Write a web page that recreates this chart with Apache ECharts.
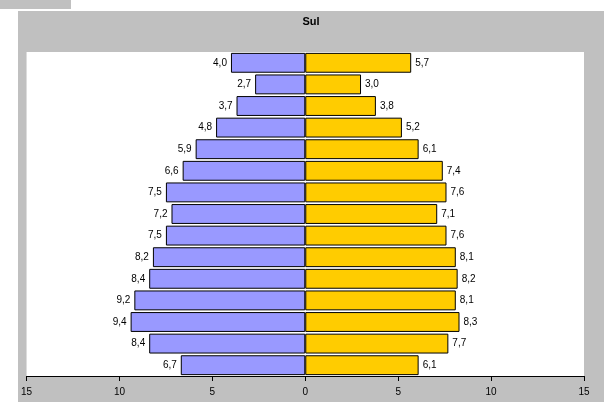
<!DOCTYPE html>
<html>
<head>
<meta charset="utf-8">
<script src="https://cdn.jsdelivr.net/npm/echarts@6/dist/echarts.min.js"></script>
<style>
    html, body { margin: 0; padding: 0; background: #fff; }
    #strip { position: absolute; left: 0; top: 0; width: 71px; height: 9px; background: #c0c0c0; }
    #chart { position: absolute; left: 18px; top: 11px; width: 586px; height: 391px; }
</style>
</head>
<body>
<div id="strip"></div>
<div id="chart"></div>
<script>
    // faixas etárias, de cima para baixo
    var categories = ['80+', '75-79', '70-74', '65-69', '60-64', '55-59', '50-54', '45-49',
        '40-44', '35-39', '30-34', '25-29', '20-24', '15-19', '10-14'];
    var homens = [4.0, 2.7, 3.7, 4.8, 5.9, 6.6, 7.5, 7.2, 7.5, 8.2, 8.4, 9.2, 9.4, 8.4, 6.7];
    var mulheres = [5.7, 3.0, 3.8, 5.2, 6.1, 7.4, 7.6, 7.1, 7.6, 8.1, 8.2, 8.1, 8.3, 7.7, 6.1];
    var ticks = [-15, -10, -5, 0, 5, 10, 15];

    var chart = echarts.init(document.getElementById('chart'));

    function fmt(v) {
        return Math.abs(v).toFixed(1).replace('.', ',');
    }

    var option = {
        backgroundColor: '#c0c0c0',
        animation: false,
        title: {
            text: 'Sul',
            left: 'center',
            top: 0,
            textStyle: {
                fontFamily: 'Liberation Sans',
                fontSize: 11,
                fontWeight: 'bold',
                color: '#000'
            }
        },
        grid: {
            left: 7,
            right: 20,
            top: 41,
            bottom: 26,
            show: true,
            backgroundColor: '#fff',
            borderWidth: 0
        },
        xAxis: {
            type: 'value',
            min: ticks[0],
            max: ticks[ticks.length - 1],
            interval: 5,
            splitLine: {show: false},
            axisLine: {show: true, lineStyle: {color: '#000', width: 1}},
            axisTick: {show: true, length: 5, lineStyle: {color: '#000'}},
            axisLabel: {
                color: '#000',
                fontFamily: 'Liberation Sans',
                fontSize: 10,
                margin: 11,
                formatter: function (v) { return Math.abs(v); }
            }
        },
        yAxis: {
            type: 'category',
            data: categories,
            inverse: true,
            show: false
        },
        series: [{
            name: 'Homens',
            type: 'bar',
            stack: 'pop',
            barCategoryGap: '8%',
            data: homens.map(function (v) { return -v; }),
            itemStyle: {color: '#9999ff', borderColor: '#000', borderWidth: 1},
            label: {
                show: true,
                position: 'left',
                distance: 4,
                color: '#000',
                fontFamily: 'Liberation Sans',
                fontSize: 10,
                formatter: function (p) { return fmt(p.value); }
            }
        }, {
            name: 'Mulheres',
            type: 'bar',
            stack: 'pop',
            barCategoryGap: '8%',
            data: mulheres,
            itemStyle: {color: '#ffcc00', borderColor: '#000', borderWidth: 1},
            label: {
                show: true,
                position: 'right',
                distance: 4,
                color: '#000',
                fontFamily: 'Liberation Sans',
                fontSize: 10,
                formatter: function (p) { return fmt(p.value); }
            }
        }]
    };

    chart.setOption(option);
</script>
</body>
</html>
